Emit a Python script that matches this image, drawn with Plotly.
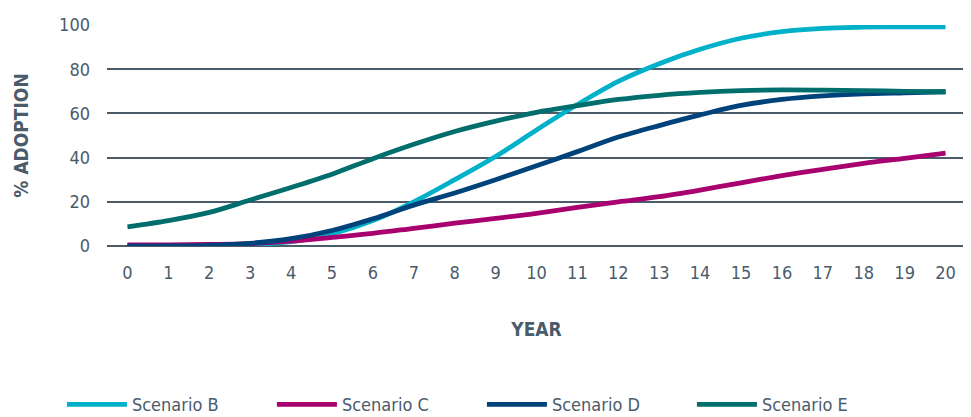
import plotly.graph_objects as go

years = list(range(0, 21))
scenario_b = [0, 0, 0.2, 0.6, 2, 5.5, 11.5, 20, 30, 40.5, 52.5, 64, 74.5, 82.5, 89, 94, 97, 98.5, 99, 99.2, 99.2]
scenario_c = [0.5, 0.5, 0.7, 1.1, 2.2, 3.9, 5.7, 8, 10.3, 12.5, 14.8, 17.5, 20, 22.3, 25.3, 28.6, 31.8, 34.7, 37.4, 39.7, 42]
scenario_d = [0, 0, 0.3, 1.2, 3.3, 7, 12.3, 18.5, 24, 30, 36.3, 42.7, 49.3, 54.5, 59.3, 63.6, 66.3, 67.9, 68.8, 69.3, 69.8]
scenario_e = [8.7, 11.5, 15.2, 20.8, 26.5, 32.5, 39.5, 46, 51.8, 56.5, 60.5, 63.5, 66.3, 68.2, 69.5, 70.3, 70.6, 70.5, 70.3, 70, 69.8]

series = [
    ("Scenario B", scenario_b, "#00b1c9"),
    ("Scenario C", scenario_c, "#a8006f"),
    ("Scenario D", scenario_d, "#00427a"),
    ("Scenario E", scenario_e, "#006e6c"),
]

FONT = "DejaVu Sans Condensed, Roboto, sans-serif"
TXT = "#4a5b6b"

fig = go.Figure()
for name, vals, col in series:
    fig.add_trace(go.Scatter(x=years, y=vals, name=name, mode="lines",
                             line=dict(color=col, width=4.8, shape="spline", smoothing=0.9)))

fig.update_layout(
    width=963, height=409,
    margin=dict(l=99, r=5, t=17, b=171, autoexpand=False),
    plot_bgcolor="white", paper_bgcolor="white",
    font=dict(family=FONT, color=TXT, size=18),
    showlegend=True,
    legend=dict(orientation="h", xref="container", x=0.056, xanchor="left",
                yref="container", y=0.03, yanchor="middle",
                font=dict(size=18, color=TXT), entrywidth=135, entrywidthmode="pixels",
                itemwidth=60),
    xaxis=dict(range=[-0.5, 20.5], tickmode="array", tickvals=years,
               ticktext=[str(v) for v in years], showgrid=False, zeroline=False,
               showline=False, ticks="", tickfont=dict(size=18, color=TXT),
               automargin=False, ticklabelstandoff=14,
               title=dict(text="<b>YEAR</b>", font=dict(size=19, color=TXT), standoff=40)),
    yaxis=dict(range=[0, 100], tickvals=[0, 20, 40, 60, 80, 100], showgrid=True,
               gridcolor="#4b5b69", gridwidth=2, zeroline=True, zerolinecolor="#4b5b69",
               zerolinewidth=2, showline=False, ticks="", tickfont=dict(size=18, color=TXT),
               ticklabelstandoff=16, automargin=False,
               title=dict(text="<b>% ADOPTION</b>", font=dict(size=19, color=TXT), standoff=25)),
)

fig.write_html("out.html")
